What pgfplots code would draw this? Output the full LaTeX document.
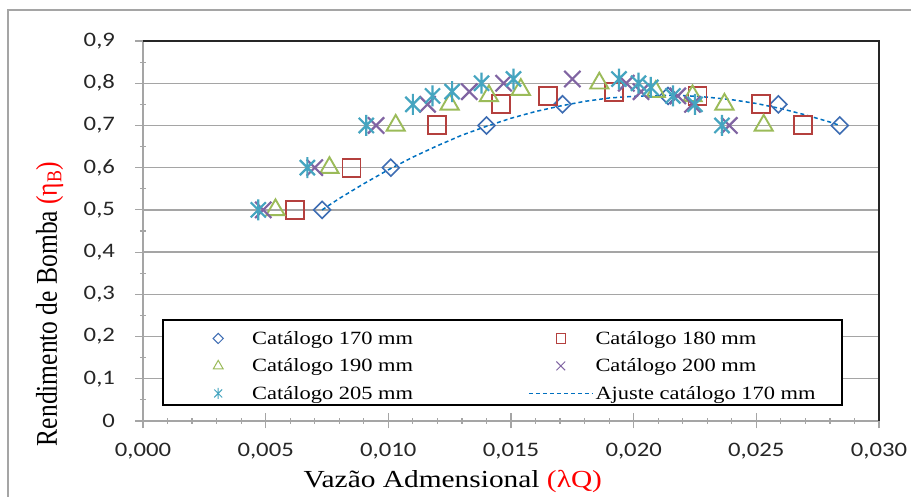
\documentclass[border=0pt]{standalone}
\usepackage{fontspec}
\setmainfont{Liberation Serif}
\newfontfamily\serifw[FakeStretch=1.2]{Liberation Serif}
\newfontfamily\sansw[FakeStretch=1.2]{Carlito}
\usepackage{pgfplots}
\pgfplotsset{compat=1.18}

\definecolor{c170}{RGB}{62,109,179}
\definecolor{c180}{RGB}{180,64,62}
\definecolor{c190}{RGB}{155,187,89}
\definecolor{c200}{RGB}{128,100,162}
\definecolor{c205}{RGB}{69,165,192}
\definecolor{cfit}{RGB}{0,112,192}
\definecolor{axgray}{RGB}{165,165,165}

% Excel-like star: vertical bar plus an x
\pgfdeclareplotmark{xstar}{%
  \pgfpathmoveto{\pgfqpoint{0pt}{\pgfplotmarksize}}%
  \pgfpathlineto{\pgfqpoint{0pt}{-\pgfplotmarksize}}%
  \pgfpathmoveto{\pgfqpoint{-.72\pgfplotmarksize}{-.72\pgfplotmarksize}}%
  \pgfpathlineto{\pgfqpoint{.72\pgfplotmarksize}{.72\pgfplotmarksize}}%
  \pgfpathmoveto{\pgfqpoint{-.72\pgfplotmarksize}{.72\pgfplotmarksize}}%
  \pgfpathlineto{\pgfqpoint{.72\pgfplotmarksize}{-.72\pgfplotmarksize}}%
  \pgfusepathqstroke}

\pgfplotsset{
  legimg/.style={legend image code/.code={\draw[mark repeat=2,mark phase=2]
      plot coordinates {(0pt,0pt) (32pt,0pt) (64pt,0pt)};}},
  % markers only: no connecting line, legend image keeps 64pt width
  mk/.style={draw=none,
      legend image code/.code={\path[mark repeat=2,mark phase=2]
          plot coordinates {(0pt,0pt) (32pt,0pt) (64pt,0pt)};},
      legend image post style={every mark/.append style={line width=1pt}}},
}

\begin{document}
\begin{tikzpicture}
\begin{axis}[
    scale only axis,
    width=736pt, height=380pt,
    xmin=0, xmax=0.030,
    ymin=0, ymax=0.9,
    clip=false,
    scaled x ticks=false,
    xtick={0,0.005,0.010,0.015,0.020,0.025,0.030},
    xticklabels={{0,000},{0,005},{0,010},{0,015},{0,020},{0,025},{0,030}},
    ytick={0,0.1,0.2,0.3,0.4,0.5,0.6,0.7,0.8,0.9},
    yticklabels={0,{0,1},{0,2},{0,3},{0,4},{0,5},{0,6},{0,7},{0,8},{0,9}},
    minor x tick num=4,
    minor y tick num=1,
    tick pos=left,
    tick align=center,
    major tick length=15pt,
    minor tick length=6pt,
    tick style={color=axgray, line width=1.2pt},
    axis line style={color=axgray, line width=1.5pt},
    ymajorgrids,
    grid style={color=axgray, line width=1.3pt},
    ticklabel style={font=\sansw\fontsize{20.6}{24}\selectfont, text=black!85},
    yticklabel style={xshift=-17pt},
    xticklabel style={yshift=-11pt},
    xlabel={Vazão Admensional {\color{red}(λQ)}},
    xlabel style={font=\serifw\fontsize{24.5}{28}\selectfont,
        at={(rel axis cs:0.421,0)}, anchor=base, yshift=-67pt},
    ylabel={Rendimento de Bomba {\color{red}(η\textsubscript{B})}},
    ylabel style={font=\fontsize{25.5}{30}\selectfont,
        at={(rel axis cs:0,0.308)}, anchor=base, yshift=86pt, yscale=1.18},
    legend columns=2,
    legimg,
    legend style={draw=none, fill=none,
        at={(rel axis cs:0.0272,0.2658)}, anchor=north west,
        inner xsep=23pt, inner ysep=9pt,
        row sep=9pt,
        nodes={inner ysep=2pt},
        font=\serifw\fontsize{18.7}{22}\selectfont,
        /tikz/column 2/.style={column sep=113pt}},
    legend cell align=left,
]
\addplot[mk, mark=square, mark size=6pt,
    mark options={rotate=45, solid, line width=1.6pt, draw=c170, fill=none},
    legend image post style={mark size=3.6pt}]
    coordinates {
    (0.0073,0.50) (0.0101,0.60) (0.0140,0.70) (0.0171,0.75)
    (0.0214,0.77) (0.0259,0.75) (0.0284,0.70)
};
\addlegendentry{Catálogo 170 mm}
\addplot[mk, mark=square, mark size=9pt,
    mark options={solid, line width=1.9pt, draw=c180, fill=none},
    legend image post style={mark size=4.6pt}]
    coordinates {
    (0.0062,0.50) (0.0085,0.60) (0.0120,0.70) (0.0146,0.75) (0.0165,0.77)
    (0.0192,0.78) (0.0226,0.77) (0.0252,0.75) (0.0269,0.70)
};
\addlegendentry{Catálogo 180 mm}
\addplot[mk, mark=triangle, mark size=10.5pt,
    mark options={solid, line width=1.9pt, draw=c190, fill=none},
    legend image post style={mark size=5.6pt}]
    coordinates {
    (0.0054,0.50) (0.0076,0.60) (0.0103,0.70) (0.0125,0.75) (0.0141,0.77)
    (0.0154,0.785) (0.0186,0.80) (0.0209,0.78) (0.0224,0.77) (0.0237,0.75)
    (0.0253,0.70)
};
\addlegendentry{Catálogo 190 mm}
\addplot[mk, mark=x, mark size=11.5pt,
    mark options={solid, line width=2.2pt, draw=c200},
    legend image post style={mark size=6.2pt}]
    coordinates {
    (0.0049,0.50) (0.0070,0.60) (0.0095,0.70) (0.0116,0.75) (0.0133,0.78)
    (0.0147,0.80) (0.0175,0.81) (0.0197,0.80) (0.0203,0.78) (0.0218,0.77)
    (0.0224,0.75) (0.0239,0.70)
};
\addlegendentry{Catálogo 200 mm}
\addplot[mk, mark=xstar, mark size=10.5pt,
    mark options={solid, line width=2.2pt, draw=c205},
    legend image post style={mark size=5.5pt}]
    coordinates {
    (0.0047,0.50) (0.0067,0.60) (0.0091,0.70) (0.0110,0.75) (0.0118,0.77)
    (0.0126,0.78) (0.0138,0.80) (0.0151,0.81) (0.0194,0.81) (0.0202,0.80)
    (0.0207,0.79) (0.0216,0.77) (0.0225,0.75) (0.0236,0.70)
};
\addlegendentry{Catálogo 205 mm}
\addplot[color=cfit, line width=1.5pt, dash pattern=on 4pt off 3pt, mark=none]
    coordinates {
    (0.0073,0.500) (0.008,0.527) (0.009,0.562) (0.010,0.595) (0.011,0.625)
    (0.012,0.652) (0.013,0.677) (0.014,0.698) (0.015,0.717) (0.016,0.733)
    (0.017,0.746) (0.018,0.757) (0.019,0.765) (0.020,0.769) (0.021,0.771)
    (0.022,0.771) (0.023,0.767) (0.024,0.761) (0.025,0.752) (0.026,0.740)
    (0.027,0.725) (0.028,0.708) (0.0284,0.700)
};
\addlegendentry{Ajuste catálogo 170 mm}
\draw[black!85, line width=1.5pt] (rel axis cs:0,1) -- (rel axis cs:1,1) -- (rel axis cs:1,0);
\draw[black, line width=1.2pt, fill=white]
    (rel axis cs:0.0272,0.2658) rectangle (rel axis cs:0.9497,0.0421);
\end{axis}
\draw[axgray, line width=1.5pt] (-135pt,-120pt) rectangle (800pt,411pt);
\pgfresetboundingbox
\useasboundingbox (-143pt,-76pt) rectangle (768pt,421pt);
\end{tikzpicture}
\end{document}
